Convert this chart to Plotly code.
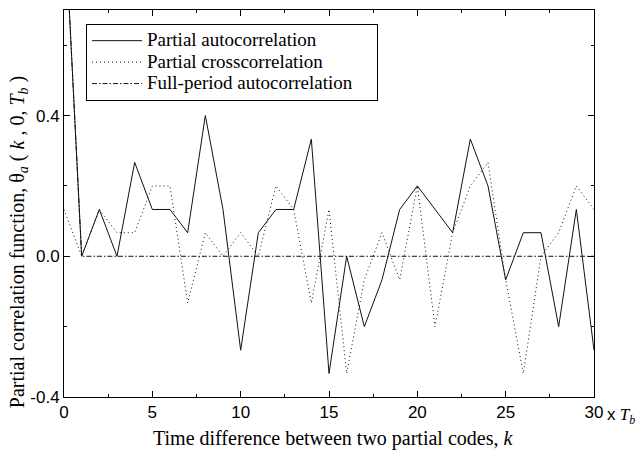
import plotly.graph_objects as go

k = list(range(0, 31))
partial_auto = [1.0, 0.0, 0.133, 0.0, 0.267, 0.133, 0.133, 0.067, 0.4, 0.133,
                -0.267, 0.067, 0.133, 0.133, 0.333, -0.333, 0.0, -0.2, -0.067, 0.133,
                0.2, 0.133, 0.067, 0.333, 0.2, -0.067, 0.067, 0.067, -0.2, 0.133, -0.267]
partial_cross = [0.133, 0.0, 0.133, 0.067, 0.067, 0.2, 0.2, -0.133, 0.067, 0.0,
                 0.067, 0.0, 0.2, 0.133, -0.133, 0.133, -0.333, -0.067, 0.067, -0.067,
                 0.2, -0.2, 0.067, 0.2, 0.267, -0.067, -0.333, 0.0, 0.067, 0.2, 0.133]
full_auto = [1.0] + [0.0] * 30

series_names = ["Partial autocorrelation", "Partial crosscorrelation", "Full-period autocorrelation"]
x_tickvals = [0, 5, 10, 15, 20, 25, 30]
x_ticktext = ["0", "5", "10", "15", "20", "25", "30"]
y_tickvals = [-0.4, 0.0, 0.4]
y_ticktext = ["-0.4", "0.0", "0.4"]

serif = "Liberation Serif, Times New Roman, serif"
sans = "Liberation Sans, Arial, sans-serif"


def legend_label(name, pad=0):
    return "<span style='font-size:19px'>" + name + "\u00a0" * pad + "</span>"


fig = go.Figure()
fig.add_trace(go.Scatter(x=k, y=partial_auto, mode="lines", name=legend_label(series_names[0]),
                         line=dict(color="#111111", width=1)))
fig.add_trace(go.Scatter(x=k, y=partial_cross, mode="lines", name=legend_label(series_names[1]),
                         line=dict(color="#111111", width=1, dash="1px,3px")))
fig.add_trace(go.Scatter(x=k, y=full_auto, mode="lines", name=legend_label(series_names[2], 4),
                         line=dict(color="#111111", width=1, dash="5px,2px,1.5px,2px")))

axis_common = dict(showline=True, linecolor="black", linewidth=1, mirror="allticks",
                   ticks="inside", tickcolor="black", showgrid=False, zeroline=False,
                   tickfont=dict(family=sans, size=17, color="black"))

fig.update_xaxes(range=[0, 30], tickvals=x_tickvals, ticktext=x_ticktext, ticklen=6,
                 minor=dict(tickvals=[2.5, 7.5, 12.5, 17.5, 22.5, 27.5], ticklen=3,
                            ticks="inside", tickcolor="black"),
                 **axis_common)
fig.update_yaxes(range=[-0.4, 0.7], tickvals=y_tickvals, ticktext=y_ticktext, ticklen=6,
                 minor=dict(tickvals=[-0.2, 0.2, 0.6], ticklen=3,
                            ticks="inside", tickcolor="black"),
                 **axis_common)

fig.add_annotation(xref="paper", yref="paper", x=-0.0868, y=0.40, textangle=-90,
                   xanchor="center", yanchor="middle", showarrow=False,
                   text="Partial correlation function, \u03b8<sub><i>a</i></sub> ( <i>k</i> , 0, <i>T</i><sub><i>b</i></sub> )",
                   font=dict(family=serif, size=20, color="black"))
fig.add_annotation(xref="paper", yref="paper", x=0.5075, y=-0.108,
                   xanchor="center", yanchor="middle", showarrow=False,
                   text="Time difference between two partial codes, <i>k</i>",
                   font=dict(family=serif, size=20, color="black"))
fig.add_annotation(xref="paper", yref="paper", x=1.0, y=-0.015, xshift=11,
                   xanchor="left", yanchor="top", showarrow=False,
                   text="<span style='font-family:Liberation Sans'>x</span> <i>T</i><sub><i>b</i></sub>",
                   font=dict(family=serif, size=17, color="black"))

fig.update_layout(
    width=642, height=452,
    margin=dict(l=64, r=48, t=10, b=55),
    paper_bgcolor="white", plot_bgcolor="white",
    showlegend=True,
    legend=dict(x=0.0415, y=0.964, xanchor="left", yanchor="top",
                bgcolor="white", bordercolor="black", borderwidth=1,
                font=dict(family=serif, size=14.2, color="black"),
                itemwidth=50, tracegroupgap=0),
)

fig.write_html("out.html")
